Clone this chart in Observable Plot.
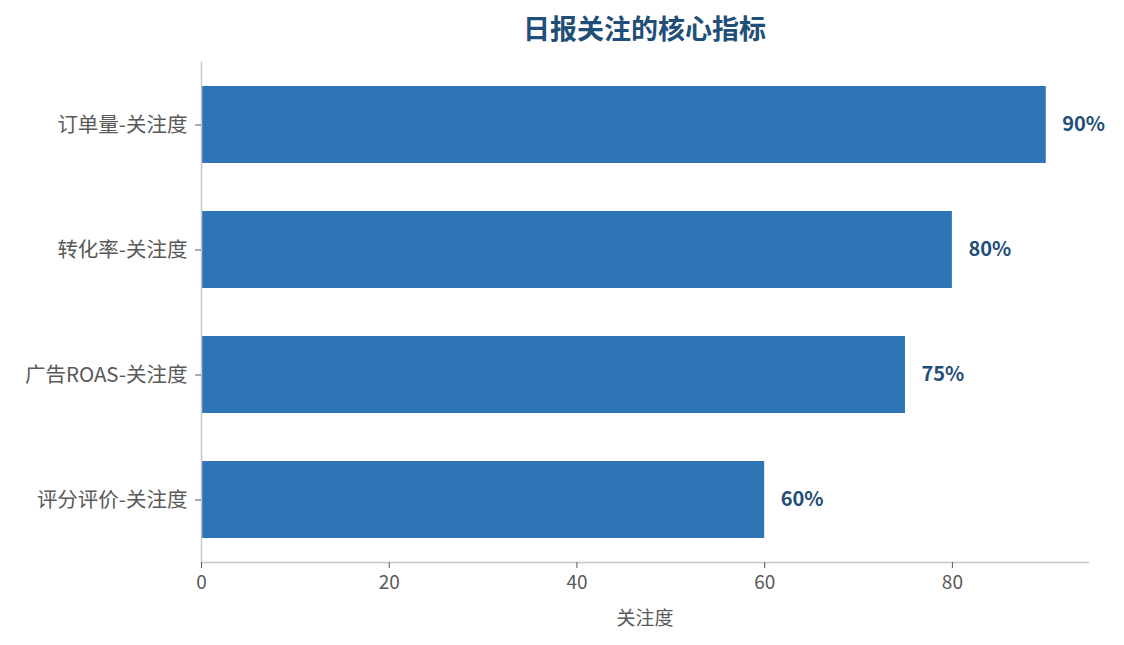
<!DOCTYPE html>
<html>
<head>
<meta charset="utf-8">
<script src="https://cdn.jsdelivr.net/npm/d3@7"></script>
<script src="https://cdn.jsdelivr.net/npm/@observablehq/plot@0.6"></script>
<style>
  body { margin: 0; background: #fff; font-family: "Noto Sans CJK SC", "Noto Sans", sans-serif; }
  #wrap { width: 1124px; height: 645px; position: relative; }
  #title { position: absolute; left: 201px; width: 887px; top: 8px; text-align: center;
           font-size: 27px; font-weight: bold; color: #1f4e79; line-height: 40px; }
  #chart { position: absolute; left: 0; top: 50px; }
</style>
</head>
<body>
<div id="wrap">
  <div id="title">日报关注的核心指标</div>
  <div id="chart"></div>
</div>
<script>
const metrics = ["订单量-关注度", "转化率-关注度", "广告ROAS-关注度", "评分评价-关注度"];
const values = [90, 80, 75, 60];
const xTicks = [0, 20, 40, 60, 80];
const xLabel = "关注度";

const data = metrics.map((m, i) => ({metric: m, value: values[i]}));

const chart = Plot.plot({
  width: 1124,
  height: 595,
  marginLeft: 201,
  marginRight: 36,
  marginTop: 12,
  marginBottom: 83,
  style: {fontFamily: '"Noto Sans CJK SC", "Noto Sans", sans-serif', background: "#fff"},
  x: {domain: [0, 94.5]},
  y: {domain: metrics, paddingInner: 0.385, paddingOuter: 0.185},
  marks: [
    Plot.barX(data, {x: "value", y: "metric", fill: "#2e75b6"}),
    Plot.text(data, {x: "value", y: "metric", text: d => d.value + "%", dx: 16, textAnchor: "start",
      fill: "#1f4e79", fontWeight: "bold", fontSize: 20}),
    Plot.frame({anchor: "left", stroke: "#c8c8c8", strokeWidth: 1.5}),
    Plot.frame({anchor: "bottom", stroke: "#c8c8c8", strokeWidth: 1.5}),
    Plot.axisY({tickSize: 6, tickPadding: 8, fontSize: 20.5, color: "#595959", stroke: "#595959", label: null}),
    Plot.axisX({ticks: xTicks, tickFormat: d => d, tickSize: 6, tickPadding: 7, fontSize: 19, color: "#595959",
      stroke: "#595959", label: xLabel, labelAnchor: "center", labelArrow: "none", labelOffset: 62})
  ]
});
document.getElementById("chart").appendChild(chart);
</script>
</body>
</html>
